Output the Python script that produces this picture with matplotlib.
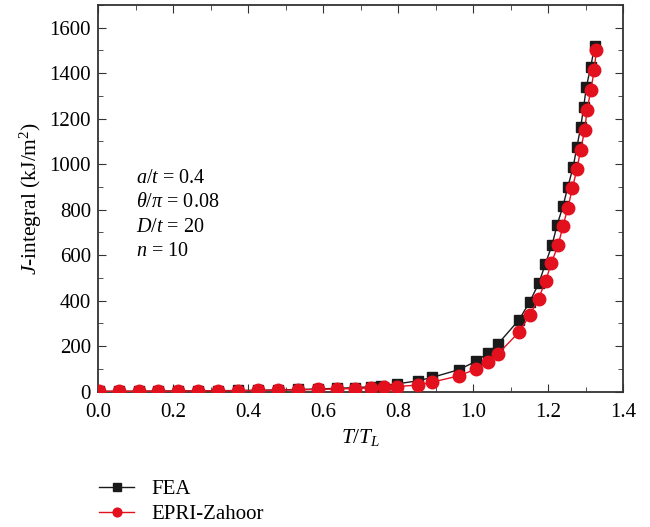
import matplotlib
matplotlib.use('Agg')
import matplotlib.pyplot as plt
from matplotlib.ticker import MultipleLocator

plt.rcParams['font.family'] = 'Liberation Serif'
plt.rcParams['mathtext.fontset'] = 'custom'
plt.rcParams['mathtext.rm'] = 'Liberation Serif'
plt.rcParams['mathtext.it'] = 'Liberation Serif:italic'

# FEA results
fea_t = [0.003, 0.055, 0.108, 0.161, 0.214, 0.267, 0.320, 0.373, 0.426, 0.480,
         0.533, 0.586, 0.636, 0.686, 0.728, 0.755, 0.796, 0.852, 0.891, 0.962,
         1.007, 1.040, 1.067, 1.123, 1.151, 1.176, 1.193, 1.211, 1.224, 1.240,
         1.253, 1.267, 1.277, 1.287, 1.295, 1.302, 1.314, 1.324]
fea_j = [1, 1, 1.5, 2, 2.5, 3, 3.5, 4.5, 5.5, 7,
         9, 11, 14, 17, 21, 26, 33, 47, 62, 96,
         132, 169, 210, 316, 394, 478, 562, 646, 731, 816,
         901, 988, 1076, 1162, 1250, 1338, 1429, 1518]

# EPRI-Zahoor estimation
epri_t = [0.003, 0.055, 0.108, 0.161, 0.214, 0.267, 0.320, 0.373, 0.426, 0.480,
          0.533, 0.586, 0.636, 0.686, 0.728, 0.763, 0.796, 0.852, 0.891, 0.962,
          1.007, 1.040, 1.067, 1.123, 1.151, 1.175, 1.194, 1.209, 1.227, 1.240,
          1.253, 1.265, 1.277, 1.287, 1.298, 1.304, 1.314, 1.323, 1.329]
epri_j = [0.5, 0.7, 1, 1.3, 1.7, 2.2, 2.8, 3.5, 4.5, 5.5,
          7, 9, 11, 13, 16, 19, 22, 28, 41, 69,
          98, 129, 166, 262, 335, 409, 488, 566, 644, 728,
          809, 894, 978, 1063, 1151, 1238, 1324, 1412, 1503]

params = ['$a/t$ = 0.4', r'$\theta/\pi$ = 0.08', '$D/t$ = 20', '$n$ = 10']

fig = plt.figure(figsize=(6.5, 5.27), dpi=100)
ax = fig.add_axes([0.1508, 0.2571, 0.9585 - 0.1508, 0.9905 - 0.2571])

ax.plot(fea_t, fea_j, color='#1a1a1a', lw=1.0, marker='s', ms=7.5,
        label='FEA', zorder=3)
ax.plot(epri_t, epri_j, color='#e3101e', lw=1.0, marker='o', ms=9,
        label='EPRI-Zahoor', zorder=4)

ax.set_xlim(0, 1.4)
ax.set_ylim(0, 1700)
ax.xaxis.set_major_locator(MultipleLocator(0.2))
ax.xaxis.set_minor_locator(MultipleLocator(0.1))
ax.yaxis.set_major_locator(MultipleLocator(200))
ax.yaxis.set_minor_locator(MultipleLocator(100))
ax.xaxis.set_major_formatter(matplotlib.ticker.FormatStrFormatter('%.1f'))
ax.tick_params(which='both', direction='in', top=True, right=True,
               labelsize=15, color='#333333')
ax.tick_params(which='major', length=6)
ax.tick_params(which='minor', length=3.5)
ax.tick_params(axis='x', which='major', pad=8)
ax.tick_params(axis='y', which='major', pad=5)
for s in ax.spines.values():
    s.set_color('#333333')
    s.set_linewidth(1.3)

ax.set_xlabel('$T/T_L$', fontsize=15.5, labelpad=4)
ax.set_ylabel('$J$-integral (kJ/m$^2$)', fontsize=15.5, labelpad=4)

for i, p in enumerate(params):
    ax.text(0.072, 0.552 - i * 0.0635, p, transform=ax.transAxes,
            fontsize=14.5, va='center', ha='left')

fig.legend(loc='upper left', bbox_to_anchor=(0.152, 0.0895), frameon=False,
           fontsize=15, handlelength=1.7, markerscale=0.7, labelspacing=0.25,
           handletextpad=0.8, borderpad=0, borderaxespad=0)

fig.savefig('out.png', dpi=100)
